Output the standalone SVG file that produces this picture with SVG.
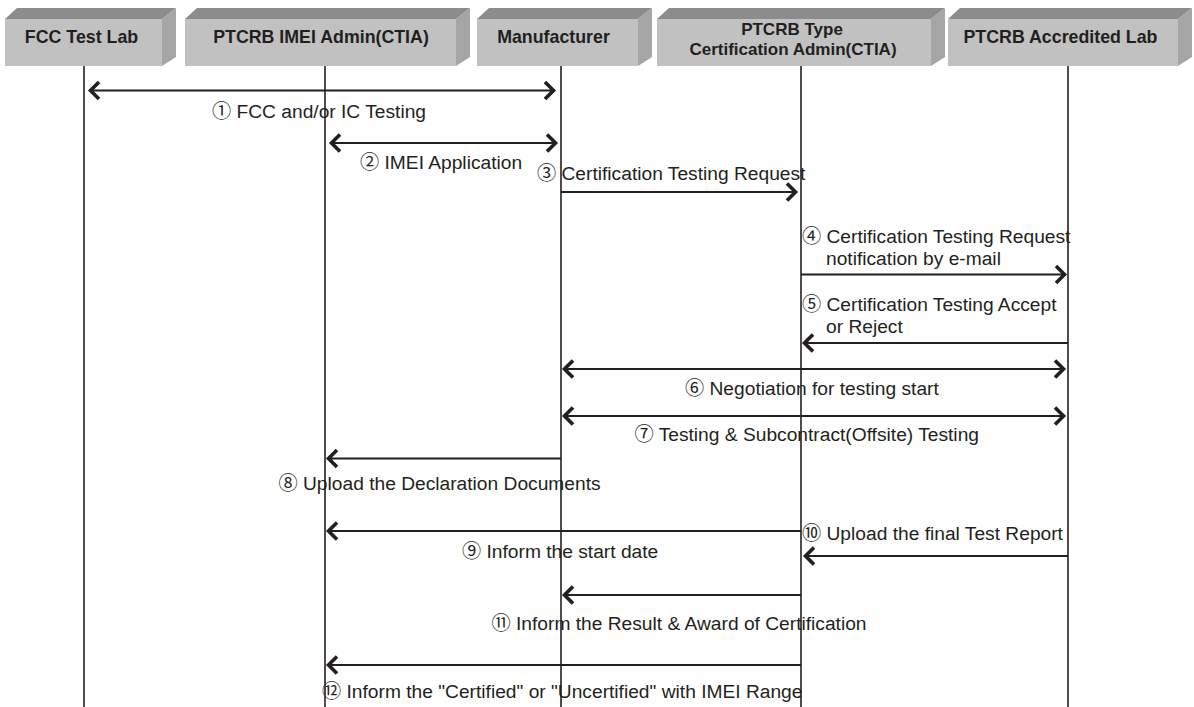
<svg xmlns="http://www.w3.org/2000/svg" width="1194" height="707" viewBox="0 0 1194 707">
<style>
.front{fill:#c1c1c1}
.top{fill:#8c8c8c}
.side{fill:#a5a5a5}
.hd{font-family:"Liberation Sans",Arial,sans-serif;font-weight:bold;font-size:17.8px;fill:#231f20;text-anchor:middle}
.hd2{font-size:17px}
.lbl{font-family:"Liberation Sans",Arial,"Noto Sans CJK JP",sans-serif;font-size:19.2px;fill:#231f20}
.life{stroke:#231f20;stroke-width:1.6;fill:none}
.msg{stroke:#231f20;stroke-width:1.8;fill:none}
.one{marker-end:url(#chev)}
.two{marker-start:url(#chev);marker-end:url(#chev)}
</style>
<defs>
<marker id="chev" viewBox="-14 -12 18 24" markerWidth="18" markerHeight="24" refX="0" refY="0" orient="auto-start-reverse" markerUnits="userSpaceOnUse">
<path d="M-10,-8.5 L-1.5,0 L-10,8.5" fill="none" stroke="#231f20" stroke-width="3.6" stroke-linejoin="miter"/>
</marker>
</defs>
<rect width="1194" height="707" fill="#ffffff"/>

<g id="node-fcc">
<polygon class="top" points="5,19 17,8 176,8 162,19"/>
<polygon class="side" points="162,19 176,8 176,57 162,66"/>
<rect class="front" x="5" y="19" width="157" height="47"/>
<text class="hd" x="81.5" y="42.5">FCC Test Lab</text>
</g>
<g id="node-imei">
<polygon class="top" points="185,19 197,8 470,8 456,19"/>
<polygon class="side" points="456,19 470,8 470,57 456,66"/>
<rect class="front" x="185" y="19" width="271" height="47"/>
<text class="hd" x="321" y="42.5">PTCRB IMEI Admin(CTIA)</text>
</g>
<g id="node-manufacturer">
<polygon class="top" points="477,19 489,8 652,8 638,19"/>
<polygon class="side" points="638,19 652,8 652,57 638,66"/>
<rect class="front" x="477" y="19" width="161" height="47"/>
<text class="hd" x="553.5" y="42.5">Manufacturer</text>
</g>
<g id="node-typecert">
<polygon class="top" points="657,19 669,8 945,8 931,19"/>
<polygon class="side" points="931,19 945,8 945,57 931,66"/>
<rect class="front" x="657" y="19" width="274" height="47"/>
<text class="hd hd2" x="792" y="35">PTCRB Type</text>
<text class="hd hd2" x="793" y="55">Certification Admin(CTIA)</text>
</g>
<g id="node-lab">
<polygon class="top" points="948,19 960,8 1192,8 1178,19"/>
<polygon class="side" points="1178,19 1192,8 1192,57 1178,66"/>
<rect class="front" x="948" y="19" width="230" height="47"/>
<text class="hd" x="1060.5" y="42.5">PTCRB Accredited Lab</text>
</g>

<g id="lifelines">
<line class="life" x1="84" y1="66" x2="84" y2="707"/>
<line class="life" x1="325" y1="66" x2="325" y2="707"/>
<line class="life" x1="561" y1="66" x2="561" y2="707"/>
<line class="life" x1="801" y1="66" x2="801" y2="707"/>
<line class="life" x1="1068" y1="66" x2="1068" y2="707"/>
</g>

<g id="connectors">
<line class="msg two" x1="89" y1="90.5" x2="555" y2="90.5"/>
<line class="msg two" x1="330" y1="143" x2="557" y2="143"/>
<line class="msg one" x1="561" y1="192" x2="797" y2="192"/>
<line class="msg one" x1="801" y1="274.5" x2="1066" y2="274.5"/>
<line class="msg one" x1="1068" y1="343" x2="803" y2="343"/>
<line class="msg two" x1="563" y1="369" x2="1065" y2="369"/>
<line class="msg two" x1="563" y1="416" x2="1065" y2="416"/>
<line class="msg one" x1="561" y1="458.5" x2="327" y2="458.5"/>
<line class="msg one" x1="801" y1="531" x2="327" y2="531"/>
<line class="msg one" x1="1068" y1="556" x2="804" y2="556"/>
<line class="msg one" x1="801" y1="595" x2="563" y2="595"/>
<line class="msg one" x1="801" y1="665" x2="327" y2="665"/>
</g>

<g id="labels">
<text class="lbl" x="212" y="118">① FCC and/or IC Testing</text>
<text class="lbl" x="360" y="169">② IMEI Application</text>
<text class="lbl" x="537" y="180">③ Certification Testing Request</text>
<text class="lbl" x="802" y="243">④ Certification Testing Request</text>
<text class="lbl" x="826" y="264.5">notification by e-mail</text>
<text class="lbl" x="802" y="311">⑤ Certification Testing Accept</text>
<text class="lbl" x="826" y="332.5">or Reject</text>
<text class="lbl" x="685" y="394.5">⑥ Negotiation for testing start</text>
<text class="lbl" x="634.5" y="441">⑦ Testing &amp; Subcontract(Offsite) Testing</text>
<text class="lbl" x="278.5" y="490">⑧ Upload the Declaration Documents</text>
<text class="lbl" x="462" y="558">⑨ Inform the start date</text>
<text class="lbl" x="802" y="540">⑩ Upload the final Test Report</text>
<text class="lbl" x="491.5" y="630">⑪ Inform the Result &amp; Award of Certification</text>
<text class="lbl" x="322" y="698">⑫ Inform the "Certified" or "Uncertified" with IMEI Range</text>
</g>
</svg>
